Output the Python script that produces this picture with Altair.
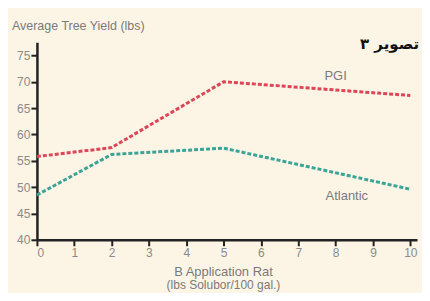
import altair as alt
import pandas as pd

rates = [0, 2, 5, 10]
pgi = [55.8, 57.5, 70.0, 67.4]
atlantic = [48.5, 56.2, 57.4, 49.6]
x_ticks = list(range(0, 11))
y_ticks = [40, 45, 50, 55, 60, 65, 70, 75]

rows = []
for r, v in zip(rates, pgi):
    rows.append({"rate": r, "yield": v, "variety": "PGI"})
for r, v in zip(rates, atlantic):
    rows.append({"rate": r, "yield": v, "variety": "Atlantic"})
df = pd.DataFrame(rows)

lbl = pd.DataFrame({"rate": [8.0, 8.3], "yield": [71.0, 48.3], "label": ["PGI", "Atlantic"]})

W, H = 381, 198
xs = alt.Scale(domain=[0, 10.18], nice=False)
ys = alt.Scale(domain=[40, 77.5], nice=False)

axis_style = dict(title=None, grid=False, domainColor="#222", domainWidth=2.5,
                  tickColor="#222", tickWidth=2, tickSize=6, labelColor="#8a8a8a",
                  labelFontSize=12, labelFont="Liberation Sans", labelOverlap=False)
ax_x = alt.Axis(values=x_ticks, labelPadding=2, **axis_style)
ax_y = alt.Axis(values=y_ticks, labelPadding=1, **axis_style)

lines = alt.Chart(df).mark_line(strokeWidth=3, strokeDash=[4, 2]).encode(
    x=alt.X("rate:Q", scale=xs, axis=ax_x),
    y=alt.Y("yield:Q", scale=ys, axis=ax_y),
    color=alt.Color("variety:N", scale=alt.Scale(domain=["PGI", "Atlantic"],
                                                 range=["#dc4658", "#3aa596"]), legend=None),
    detail="variety:N",
)

labels = alt.Chart(lbl).mark_text(fontSize=13, color="#7a7a7a", font="Liberation Sans").encode(
    x=alt.X("rate:Q", scale=xs, axis=ax_x), y=alt.Y("yield:Q", scale=ys, axis=ax_y), text="label:N"
)

ytitle = alt.Chart(pd.DataFrame({"t": ["Average Tree Yield (lbs)"]})).mark_text(
    fontSize=12.5, color="#7a7a7a", align="left", font="Liberation Sans").encode(
    x=alt.value(-25), y=alt.value(-16), text="t:N")
xt1 = alt.Chart(pd.DataFrame({"t": ["B Application Rat"]})).mark_text(
    fontSize=13, color="#7a7a7a", font="Liberation Sans").encode(
    x=alt.value(187), y=alt.value(230), text="t:N")
xt2 = alt.Chart(pd.DataFrame({"t": ["(lbs Solubor/100 gal.)"]})).mark_text(
    fontSize=12, color="#7a7a7a", font="Liberation Sans").encode(
    x=alt.value(187), y=alt.value(243), text="t:N")
fa = alt.Chart(pd.DataFrame({"t": ["تصویر ۳"]})).mark_text(
    fontSize=15, fontWeight="bold", color="#111", align="right", font="DejaVu Sans").encode(
    x=alt.value(383), y=alt.value(2), text="t:N")

chart = alt.layer(lines, labels, ytitle, xt1, xt2, fa).properties(
    width=W, height=H,
    background="#fcf5e6",
    padding={"left": 29, "top": 34, "right": 5, "bottom": 53},
    autosize=alt.AutoSizeParams(type="none"),
).configure_view(stroke=None)

chart.save("out.html", embed_options={"renderer": "svg", "actions": False})
